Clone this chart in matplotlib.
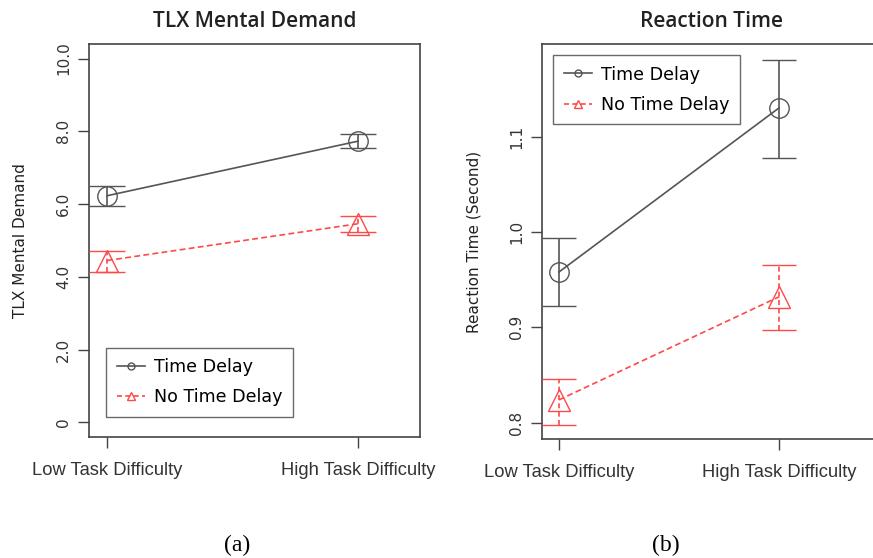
import matplotlib
matplotlib.use("Agg")
import matplotlib.pyplot as plt
from matplotlib.lines import Line2D

categories = ["Low Task Difficulty", "High Task Difficulty"]
series = ["Time Delay", "No Time Delay"]

# TLX Mental Demand
tlx_td = [6.23, 7.73]
tlx_td_lo = [5.96, 7.53]
tlx_td_hi = [6.51, 7.92]
tlx_ntd = [4.45, 5.46]
tlx_ntd_lo = [4.14, 5.22]
tlx_ntd_hi = [4.72, 5.68]
tlx_ticks = [0, 2, 4, 6, 8, 10]
tlx_ticklabels = ["0", "2.0", "4.0", "6.0", "8.0", "10.0"]

# Reaction time
rt_td = [0.958, 1.130]
rt_td_lo = [0.922, 1.078]
rt_td_hi = [0.994, 1.180]
rt_ntd = [0.824, 0.932]
rt_ntd_lo = [0.798, 0.897]
rt_ntd_hi = [0.846, 0.965]
rt_ticks = [0.8, 0.9, 1.0, 1.1]
rt_ticklabels = ["0.8", "0.9", "1.0", "1.1"]

GRAY = "#555555"
RED = "#ff4848"
FRAME = "#444444"

fig = plt.figure(figsize=(8.73, 5.58), dpi=100)
ax1 = fig.add_axes([89/873, 1-437/558, 331/873, 393/558])
ax2 = fig.add_axes([542/873, 1-439/558, 338/873, 395/558])

x = [1, 2]

def draw(ax, td, tlo, thi, ntd, nlo, nhi, ms_c, ms_t, cap):
    ax.errorbar(x, td, yerr=[[a-b for a, b in zip(td, tlo)], [b-a for a, b in zip(td, thi)]],
                color=GRAY, lw=1.2, marker='o', ms=ms_c, mfc='none', mec=GRAY, mew=1.0,
                capsize=cap, capthick=1.2, elinewidth=1.2, zorder=3)
    e2 = ax.errorbar(x, ntd, yerr=[[a-b for a, b in zip(ntd, nlo)], [b-a for a, b in zip(ntd, nhi)]],
                     color=RED, lw=1.2, ls='--', marker='^', ms=ms_t, mfc='none', mec=RED, mew=1.0,
                     capsize=cap, capthick=1.2, elinewidth=1.2, zorder=3)
    for c in e2[2]:
        c.set_linestyle((0, (3, 2)))
    e2[0].set_dashes([3.5, 2])
    for s in ax.spines.values():
        s.set_color(FRAME)
        s.set_linewidth(1.2)
    ax.set_xticks(x)
    ax.set_xticklabels(categories, fontsize=13.2, family="Liberation Sans", color="#333333")
    ax.tick_params(axis='both', direction='out', length=8, width=1.0, color=FRAME)
    ax.tick_params(axis='x', pad=10)
    ax.tick_params(axis='y', pad=5)

draw(ax1, tlx_td, tlx_td_lo, tlx_td_hi, tlx_ntd, tlx_ntd_lo, tlx_ntd_hi, 14, 16, 13)
ax1.set_xlim(0.928, 2.247)
ax1.set_ylim(-0.4, 10.4)
ax1.set_yticks(tlx_ticks)
ax1.set_yticklabels(tlx_ticklabels, rotation=90, va='center', fontsize=11, color="#333333")
ax1.set_ylabel("TLX Mental Demand", fontsize=11, color="#222222", labelpad=20)
ax1.set_title("TLX Mental Demand", fontsize=15, family="Open Sans", fontweight='semibold', color="#222222", pad=12)

draw(ax2, rt_td, rt_td_lo, rt_td_hi, rt_ntd, rt_ntd_lo, rt_ntd_hi, 14, 16, 12)
ax2.set_xlim(0.923, 2.459)
ax2.set_ylim(0.783, 1.197)
ax2.set_yticks(rt_ticks)
ax2.set_yticklabels(rt_ticklabels, rotation=90, va='center', fontsize=11, color="#333333")
ax2.set_ylabel("Reaction Time (Second)", fontsize=11, color="#222222", labelpad=20)
ax2.set_title("Reaction Time", fontsize=15, family="Open Sans", fontweight='semibold', color="#222222", pad=12)

handles = [Line2D([], [], color=GRAY, lw=1.2, marker='o', ms=5, mfc='none', mec=GRAY),
           Line2D([], [], color=RED, lw=1.2, ls='--', dashes=[3, 2], marker='^', ms=6, mfc='none', mec=RED)]

leg_kw = dict(fontsize=12.6, frameon=True, fancybox=False, edgecolor=FRAME, handlelength=1.65,
              borderpad=0.6, labelspacing=0.7, handletextpad=0.5, borderaxespad=0)
leg1 = ax1.legend(handles, series, loc='lower left', bbox_to_anchor=(106/873, 1-417/558),
                  bbox_transform=fig.transFigure, **leg_kw)
leg1.get_frame().set_linewidth(1.0)
leg2 = ax2.legend(handles, series, loc='upper left', bbox_to_anchor=(553/873, 1-55/558),
                  bbox_transform=fig.transFigure, **leg_kw)
leg2.get_frame().set_linewidth(1.0)

fig.text(237/873, 1-545/558, "(a)", family="Liberation Serif", fontsize=17, ha='center', va='center')
fig.text(666/873, 1-545/558, "(b)", family="Liberation Serif", fontsize=17, ha='center', va='center')

fig.savefig("out.png", dpi=100)
